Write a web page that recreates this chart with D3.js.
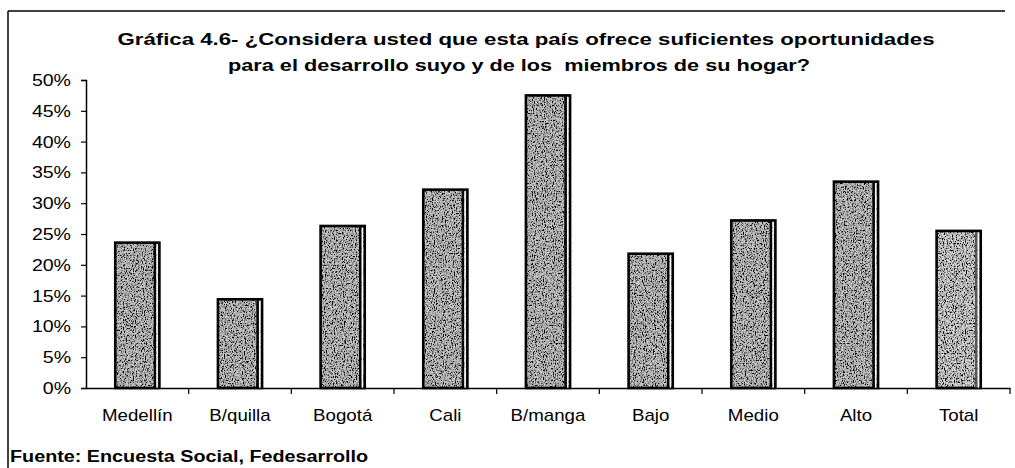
<!DOCTYPE html>
<html>
<head>
<meta charset="utf-8">
<script src="https://cdnjs.cloudflare.com/ajax/libs/d3/7.8.5/d3.min.js"></script>
<style>
  html, body { margin: 0; padding: 0; background: #fff; }
  #chart { width: 1015px; height: 468px; }
  text { font-family: "Liberation Sans", Arial, sans-serif; fill: #000; }
</style>
</head>
<body>
<div id="chart"></div>
<script>
const categories = ['Medellín', 'B/quilla', 'Bogotá', 'Cali', 'B/manga', 'Bajo', 'Medio', 'Alto', 'Total'];
const values = [0.236, 0.144, 0.263, 0.322, 0.475, 0.218, 0.272, 0.335, 0.255];
const yTicks = [0, 0.05, 0.10, 0.15, 0.20, 0.25, 0.30, 0.35, 0.40, 0.45, 0.50];
const titleLines = [
  'Gráfica 4.6- ¿Considera usted que esta país ofrece suficientes oportunidades',
  'para el desarrollo suyo y de los  miembros de su hogar?'
];
const sourceNote = 'Fuente: Encuesta Social, Fedesarrollo';

const width = 1015, height = 468;
const margin = { top: 80, right: 5, bottom: 80, left: 86 };

const svg = d3.select('#chart').append('svg')
  .attr('width', width)
  .attr('height', height);

// grainy fill like the scanned halftone
const defs = svg.append('defs');
const grain = defs.append('filter').attr('id', 'grain')
  .attr('x', 0).attr('y', 0).attr('width', '100%').attr('height', '100%');
grain.append('feTurbulence')
  .attr('type', 'fractalNoise').attr('baseFrequency', '0.9 0.6')
  .attr('numOctaves', 2).attr('seed', 4).attr('result', 'noise');
grain.append('feColorMatrix').attr('in', 'noise').attr('type', 'matrix')
  .attr('values', '0 0 0 0 0  0 0 0 0 0  0 0 0 0 0  -4 0 0 0 2.3')
  .attr('result', 'dots');
grain.append('feComposite').attr('in', 'dots').attr('in2', 'SourceGraphic')
  .attr('operator', 'in').attr('result', 'clipped');
const merge = grain.append('feMerge');
merge.append('feMergeNode').attr('in', 'SourceGraphic');
merge.append('feMergeNode').attr('in', 'clipped');

const x = d3.scaleBand()
  .domain(categories)
  .range([margin.left, 1010])
  .paddingInner(0.57)
  .paddingOuter(0.285);

const y = d3.scaleLinear()
  .domain([0, 0.5])
  .range([388, 80]);

// frame (top and left edges only remain in the scan)
svg.append('line').attr('x1', 8).attr('x2', 1005).attr('y1', 11).attr('y2', 11)
  .attr('stroke', '#000').attr('stroke-width', 1.5);
svg.append('line').attr('x1', 8).attr('x2', 8).attr('y1', 11).attr('y2', height)
  .attr('stroke', '#000').attr('stroke-width', 1.5);

// stretch helper: scanned text is wider than the font
function stretch(sel, factor) {
  sel.each(function () {
    const len = this.getComputedTextLength();
    d3.select(this).attr('textLength', len * factor).attr('lengthAdjust', 'spacingAndGlyphs');
  });
}

// title
const title = svg.append('g');
title.selectAll('text')
  .data(titleLines)
  .join('text')
  .attr('x', (d, i) => i === 0 ? 526 : 519)
  .attr('y', (d, i) => i === 0 ? 45 : 71)
  .attr('text-anchor', 'middle')
  .attr('font-size', '17px')
  .attr('font-weight', 'bold')
  .style('white-space', 'pre')
  .attr('textLength', (d, i) => i === 0 ? 817 : 582)
  .attr('lengthAdjust', 'spacingAndGlyphs')
  .text(d => d);

// y axis
const yAxis = svg.append('g')
  .attr('transform', `translate(${margin.left},0)`)
  .call(d3.axisLeft(y).tickValues(yTicks).tickFormat(d3.format('.0%')).tickSize(5).tickPadding(10));
yAxis.select('.domain').attr('stroke', '#000').attr('stroke-width', 1.5);
yAxis.selectAll('.tick line').attr('stroke', '#000').attr('stroke-width', 1.2);
yAxis.selectAll('.tick text')
  .attr('font-size', '17px')
  .attr('font-family', '"Liberation Sans", Arial, sans-serif')
  .attr('fill', '#000');
stretch(yAxis.selectAll('.tick text'), 1.15);

// bars
const bars = svg.append('g');
const barG = bars.selectAll('g')
  .data(categories.map((c, i) => ({ cat: c, value: values[i] })))
  .join('g');

barG.append('rect')
  .attr('x', d => x(d.cat))
  .attr('y', d => y(d.value))
  .attr('width', x.bandwidth())
  .attr('height', d => y(0) - y(d.value))
  .attr('fill', d => d.cat === 'Total' ? '#d4d4d4' : '#c4c4c4')
  .attr('filter', 'url(#grain)');

barG.append('rect')
  .attr('x', d => x(d.cat))
  .attr('y', d => y(d.value))
  .attr('width', x.bandwidth())
  .attr('height', d => y(0) - y(d.value))
  .attr('fill', 'none')
  .attr('stroke', '#000')
  .attr('stroke-width', 2.6);

// dark inner edge + white gap on the right side
barG.append('line')
  .attr('x1', d => x(d.cat) + x.bandwidth() - 4.5)
  .attr('x2', d => x(d.cat) + x.bandwidth() - 4.5)
  .attr('y1', d => y(d.value) + 1)
  .attr('y2', y(0))
  .attr('stroke', d => d.cat === 'Total' ? '#555' : '#000')
  .attr('stroke-width', 2.5);
barG.append('line')
  .attr('x1', d => x(d.cat) + x.bandwidth() - 2.3)
  .attr('x2', d => x(d.cat) + x.bandwidth() - 2.3)
  .attr('y1', d => y(d.value) + 1.5)
  .attr('y2', y(0))
  .attr('stroke', '#fff')
  .attr('stroke-width', 1.4);

// x axis: labels centred, ticks at category boundaries
const xAxis = svg.append('g')
  .attr('transform', `translate(0,${y(0)})`)
  .call(d3.axisBottom(x).tickSize(0).tickPadding(21));
xAxis.select('.domain').attr('stroke', '#000').attr('stroke-width', 1.5);
xAxis.selectAll('.tick text')
  .attr('font-size', '17px')
  .attr('font-family', '"Liberation Sans", Arial, sans-serif')
  .attr('fill', '#000');
stretch(xAxis.selectAll('.tick text'), 1.1);

const x0 = x.range()[0];
xAxis.selectAll('.bound')
  .data(d3.range(1, categories.length + 1))
  .join('line')
  .attr('class', 'bound')
  .attr('x1', i => x0 + i * x.step())
  .attr('x2', i => x0 + i * x.step())
  .attr('y1', 0)
  .attr('y2', 6)
  .attr('stroke', '#000')
  .attr('stroke-width', 1.2);

// source note
svg.append('text')
  .attr('x', 10)
  .attr('y', 462)
  .attr('font-size', '16px')
  .attr('font-weight', 'bold')
  .attr('textLength', 358)
  .attr('lengthAdjust', 'spacingAndGlyphs')
  .text(sourceNote);
</script>
</body>
</html>
